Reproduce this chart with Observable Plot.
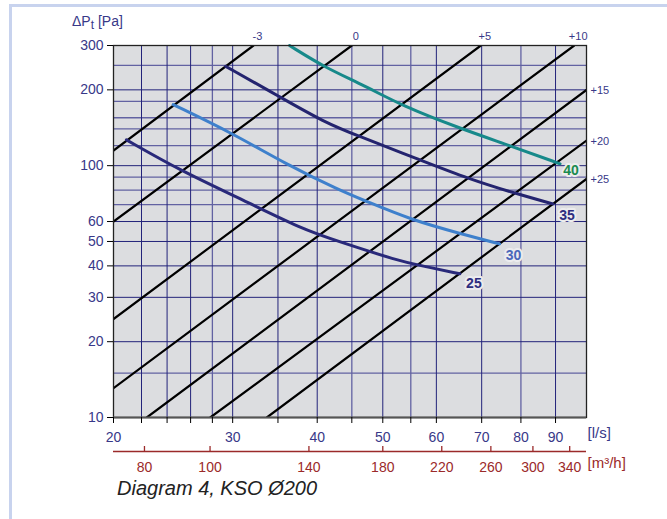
<!DOCTYPE html>
<html><head><meta charset="utf-8">
<script src="https://cdn.jsdelivr.net/npm/d3@7"></script>
<script src="https://cdn.jsdelivr.net/npm/@observablehq/plot@0.6"></script>
<style>
body{margin:0;background:#fff;font-family:"Liberation Sans",Arial,sans-serif;}
#wrap{position:relative;width:667px;height:519px;overflow:hidden;}
#border{position:absolute;left:9px;top:4px;right:-5px;bottom:-5px;border-top:3px solid #c8d3ee;border-left:3px solid #c8d3ee;}
#chart{position:absolute;left:0;top:0;}
#ytitle{position:absolute;left:72px;top:13px;font-size:14px;color:#383888;}
#ytitle sub{font-size:12px;vertical-align:-3px;}
#caption{position:absolute;left:117px;top:477px;font-size:20px;font-style:italic;color:#222;letter-spacing:0;}
</style></head><body>
<div id="wrap"><div id="border"></div><div id="chart"></div>
<div id="ytitle">ΔP<sub>t</sub> [Pa]</div>
<div id="caption">Diagram 4, KSO Ø200</div></div>
<script>
// ---- data ----
const flowGridDark = [22,24,26,30,35,40,50,60,70,90];
const flowGridLight = [28,45,55,80];
const flowTicks = [20,22,24,26,28,30,35,40,45,50,55,60,70,80,90];
const flowLabels = [20,30,40,50,60,70,80,90];
const pressureGridDark = [20,30,40,50,60,100,200];
const pressureGridLight = [15,70,80,90,120,140,155,180,250];
const pressureLabels = [10,20,30,40,50,60,100,200,300];
const m3hLabels = [80,100,140,180,220,260,300,340];

const soundLabels = ["-3","0","+5","+10","+15","+20","+25"];
const soundStartQ = [20,20,20,20,22.4,27.8,33.7];
const soundStartP = [114.8,60,24.6,13.07,10,10,10];
const soundEndQ = [32.2,45.0,69.8,95.9,100,100,100];
const soundEndP = [300,300,300,300,199.9,125.8,88.6];

const curveNames = ["25","30","35","40"];
const curve25Q = [20.9,25.1,31.2,37.8,43.3,52.6,56.9,65.0];
const curve25P = [126.6,95.6,72.7,56.3,49.7,42.0,40.1,37.2];
const curve30Q = [24.5,30.1,35.9,43.3,47.0,55.1,65.3,74.4];
const curve30P = [174.8,133.7,101.7,79.5,72.7,60.9,53.6,48.9];
const curve35Q = [29.3,35.3,41.0,45.8,56.3,67.0,78.9,89.2];
const curve35P = [248,186.9,148.7,131.7,106.4,88.6,77.3,70.5];
const curve40Q = [36.4,41.0,47.0,53.3,65.3,77.0,91.4];
const curve40P = [300,245.8,208,173.2,140,120.2,101.7];

// ---- tables built from the arrays ----
const soundLines = soundLabels.flatMap((s,i)=>[
  {s, q: soundStartQ[i], p: soundStartP[i]},
  {s, q: soundEndQ[i], p: soundEndP[i]}]);
const soundEnds = soundLabels.map((s,i)=>({s, q: soundEndQ[i], p: soundEndP[i]}));
const curveQ = [curve25Q, curve30Q, curve35Q, curve40Q];
const curveP = [curve25P, curve30P, curve35P, curve40P];
const curves = curveNames.map((n,k)=>curveQ[k].map((q,i)=>({n, q, p: curveP[k][i]})));

// ---- styles ----
const navy = "#383888";
const red = "#9b2a2a";
const curveStyle = {
  "25": {stroke:"#29297a", text:"#2e2e80", dx:14, dy:10},
  "30": {stroke:"#3e80cc", text:"#4a68bb", dx:14, dy:12},
  "35": {stroke:"#24246f", text:"#2e2e80", dx:14, dy:12},
  "40": {stroke:"#17898a", text:"#1b8b4f", dx:11, dy:7}
};
const font = "Liberation Sans, Arial, sans-serif";

const marks = [
  Plot.frame({fill:"#dcdde0"}),
  Plot.ruleX(flowGridLight, {stroke:"#6262a2", strokeWidth:1.3}),
  Plot.ruleY(pressureGridLight, {stroke:"#6262a2", strokeWidth:1.3}),
  Plot.ruleX(flowGridDark, {stroke:"#23237a", strokeWidth:1}),
  Plot.ruleY(pressureGridDark, {stroke:"#23237a", strokeWidth:1}),
  Plot.line(soundLines, {x:"q", y:"p", z:"s", stroke:"#000", strokeWidth:2.2, clip:true}),
  Plot.text(soundEnds.filter(d=>d.q<100), {x:"q", y:"p", text:"s", dx:4, dy:-9, fill:navy, fontSize:11}),
  Plot.text(soundEnds.filter(d=>d.q>=100), {x:"q", y:"p", text:"s", dx:4, dy:1, textAnchor:"start", fill:navy, fontSize:11}),
];
curves.forEach(c=>{
  const st = curveStyle[c[0].n];
  marks.push(Plot.line(c, {x:"q", y:"p", stroke:st.stroke, strokeWidth:3, curve:"basis"}));
  marks.push(Plot.text([c[c.length-1]], {x:"q", y:"p", text:"n", dx:st.dx, dy:st.dy, fill:st.text,
    fontWeight:"bold", fontSize:14, stroke:"#ececee", strokeWidth:4}));
});
marks.push(
  Plot.frame({stroke:"#222", strokeWidth:1.3}),
  Plot.ruleY([10], {stroke:"#555", strokeWidth:2}),
  Plot.axisY({ticks: pressureLabels, tickSize:6, tickPadding:4, tickFormat:d=>String(d), fontSize:14, color:navy, stroke:"#000", label:null}),
  Plot.axisX({ticks: flowTicks, tickSize:6, text:null, label:null}),
  Plot.axisX({ticks: flowLabels, tickSize:0, tickPadding:15, tickFormat:d=>String(d), fontSize:14, color:navy, label:null}),
  Plot.text(["[l/s]"], {frameAnchor:"bottom-right", dx:1, dy:20, textAnchor:"start", fill:navy, fontSize:15}),
  // secondary m3/h axis (same scale, converted to l/s)
  Plot.ruleY([10], {dy:34, stroke:red, strokeWidth:1.3}),
  Plot.ruleX(m3hLabels, {x:d=>d/3.6, y1:10, y2:10, insetBottom:5, dy:34, stroke:red, strokeWidth:1.3}),
  Plot.text(m3hLabels, {x:d=>d/3.6, y:10, text:d=>String(d), dy:50, fill:red, fontSize:14}),
  Plot.text(["[m³/h]"], {frameAnchor:"bottom-right", dx:1, dy:50, textAnchor:"start", fill:red, fontSize:15})
);

const chart = Plot.plot({
  width:667, height:475,
  marginLeft:113, marginRight:81, marginTop:45, marginBottom:58,
  style:{background:"transparent", fontFamily:font, overflow:"visible"},
  x:{type:"log", domain:[20,100], label:null},
  y:{type:"log", domain:[10,300], label:null},
  marks
});
document.getElementById("chart").appendChild(chart);
</script>
</body></html>
